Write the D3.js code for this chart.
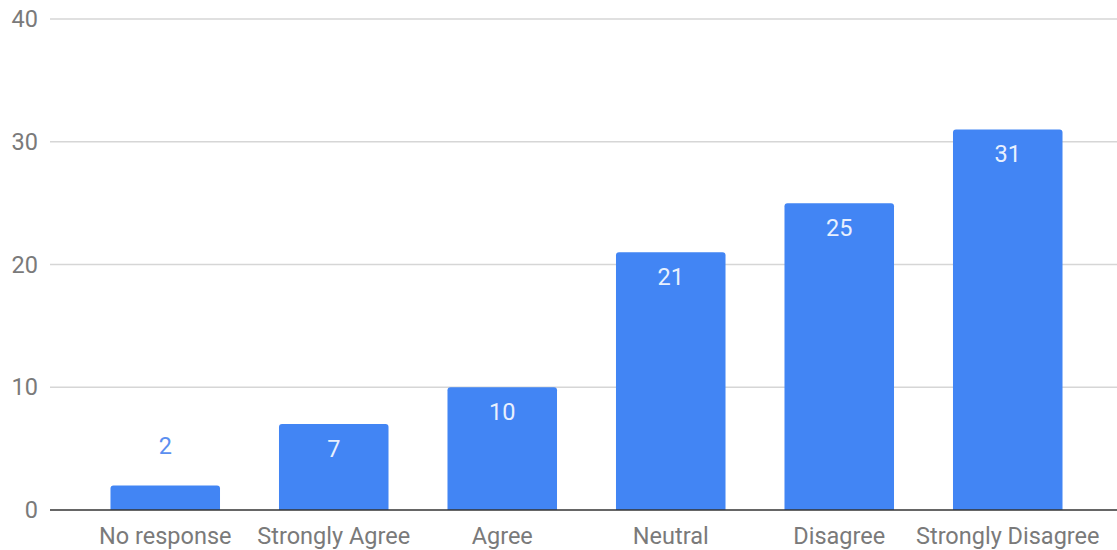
<html>
<head>
  <script src="https://cdn.jsdelivr.net/npm/d3@7"></script>
  <style>
    body { margin: 0; background: #fff; }
    text { font-family: Roboto, "Noto Sans", sans-serif; }
  </style>
</head>
<body>
  <div id="content"></div>
  <script>
    // survey answers
    const categories = ["No response", "Strongly Agree", "Agree", "Neutral", "Disagree", "Strongly Disagree"]
    const counts = [2, 7, 10, 21, 25, 31]
    const yTicks = [0, 10, 20, 30, 40]

    const width = 1117
    const height = 550
    const barColor = "#4285f4"
    const fontSize = 23.5

    const svg = d3.select("#content").append("svg")
      .attr("width", width)
      .attr("height", height)

    const x = d3.scaleBand()
      .domain(categories)
      .range([81, 1092])
      .paddingInner(0.35)
      .paddingOuter(0.175)

    const y = d3.scaleLinear()
      .domain([0, 40])
      .range([510, 19])

    // gridlines
    svg.append("g")
      .selectAll("line")
      .data(yTicks.filter(d => d > 0))
      .join("line")
      .attr("x1", 50)
      .attr("x2", width)
      .attr("y1", d => y(d))
      .attr("y2", d => y(d))
      .attr("stroke", "#d6d6d6")
      .attr("stroke-width", 1.5)

    // y labels
    svg.append("g")
      .attr("font-size", fontSize)
      .attr("fill", "#7a7a7a")
      .attr("text-anchor", "end")
      .selectAll("text")
      .data(yTicks)
      .join("text")
      .attr("x", 38)
      .attr("y", d => y(d))
      .attr("dy", "0.35em")
      .text(d => d)

    // bars, rounded on top only
    const r = 3
    svg.append("g")
      .attr("fill", barColor)
      .selectAll("path")
      .data(categories)
      .join("path")
      .attr("d", (c, i) => {
        const x0 = x(c), x1 = x(c) + x.bandwidth()
        const top = y(counts[i]), bot = y(0)
        return `M${x0},${bot}V${top + r}Q${x0},${top} ${x0 + r},${top}H${x1 - r}Q${x1},${top} ${x1},${top + r}V${bot}Z`
      })

    // baseline
    svg.append("line")
      .attr("x1", 50)
      .attr("x2", width)
      .attr("y1", y(0))
      .attr("y2", y(0))
      .attr("stroke", "#333")
      .attr("stroke-width", 1.5)

    // value labels
    svg.append("g")
      .attr("font-size", fontSize)
      .attr("text-anchor", "middle")
      .selectAll("text")
      .data(categories)
      .join("text")
      .attr("x", c => x(c) + x.bandwidth() / 2)
      .attr("y", (c, i) => {
        const h = y(0) - y(counts[i])
        return h < 45 ? y(counts[i]) - 31 : y(counts[i]) + 33
      })
      .attr("fill", (c, i) => (y(0) - y(counts[i]) < 45 ? "#5b8ff0" : "#e8f0fe"))
      .text((c, i) => counts[i])

    // category labels
    svg.append("g")
      .attr("font-size", fontSize)
      .attr("fill", "#7a7a7a")
      .attr("text-anchor", "middle")
      .selectAll("text")
      .data(categories)
      .join("text")
      .attr("x", c => x(c) + x.bandwidth() / 2)
      .attr("y", 544)
      .text(c => c)
  </script>
</body>
</html>
